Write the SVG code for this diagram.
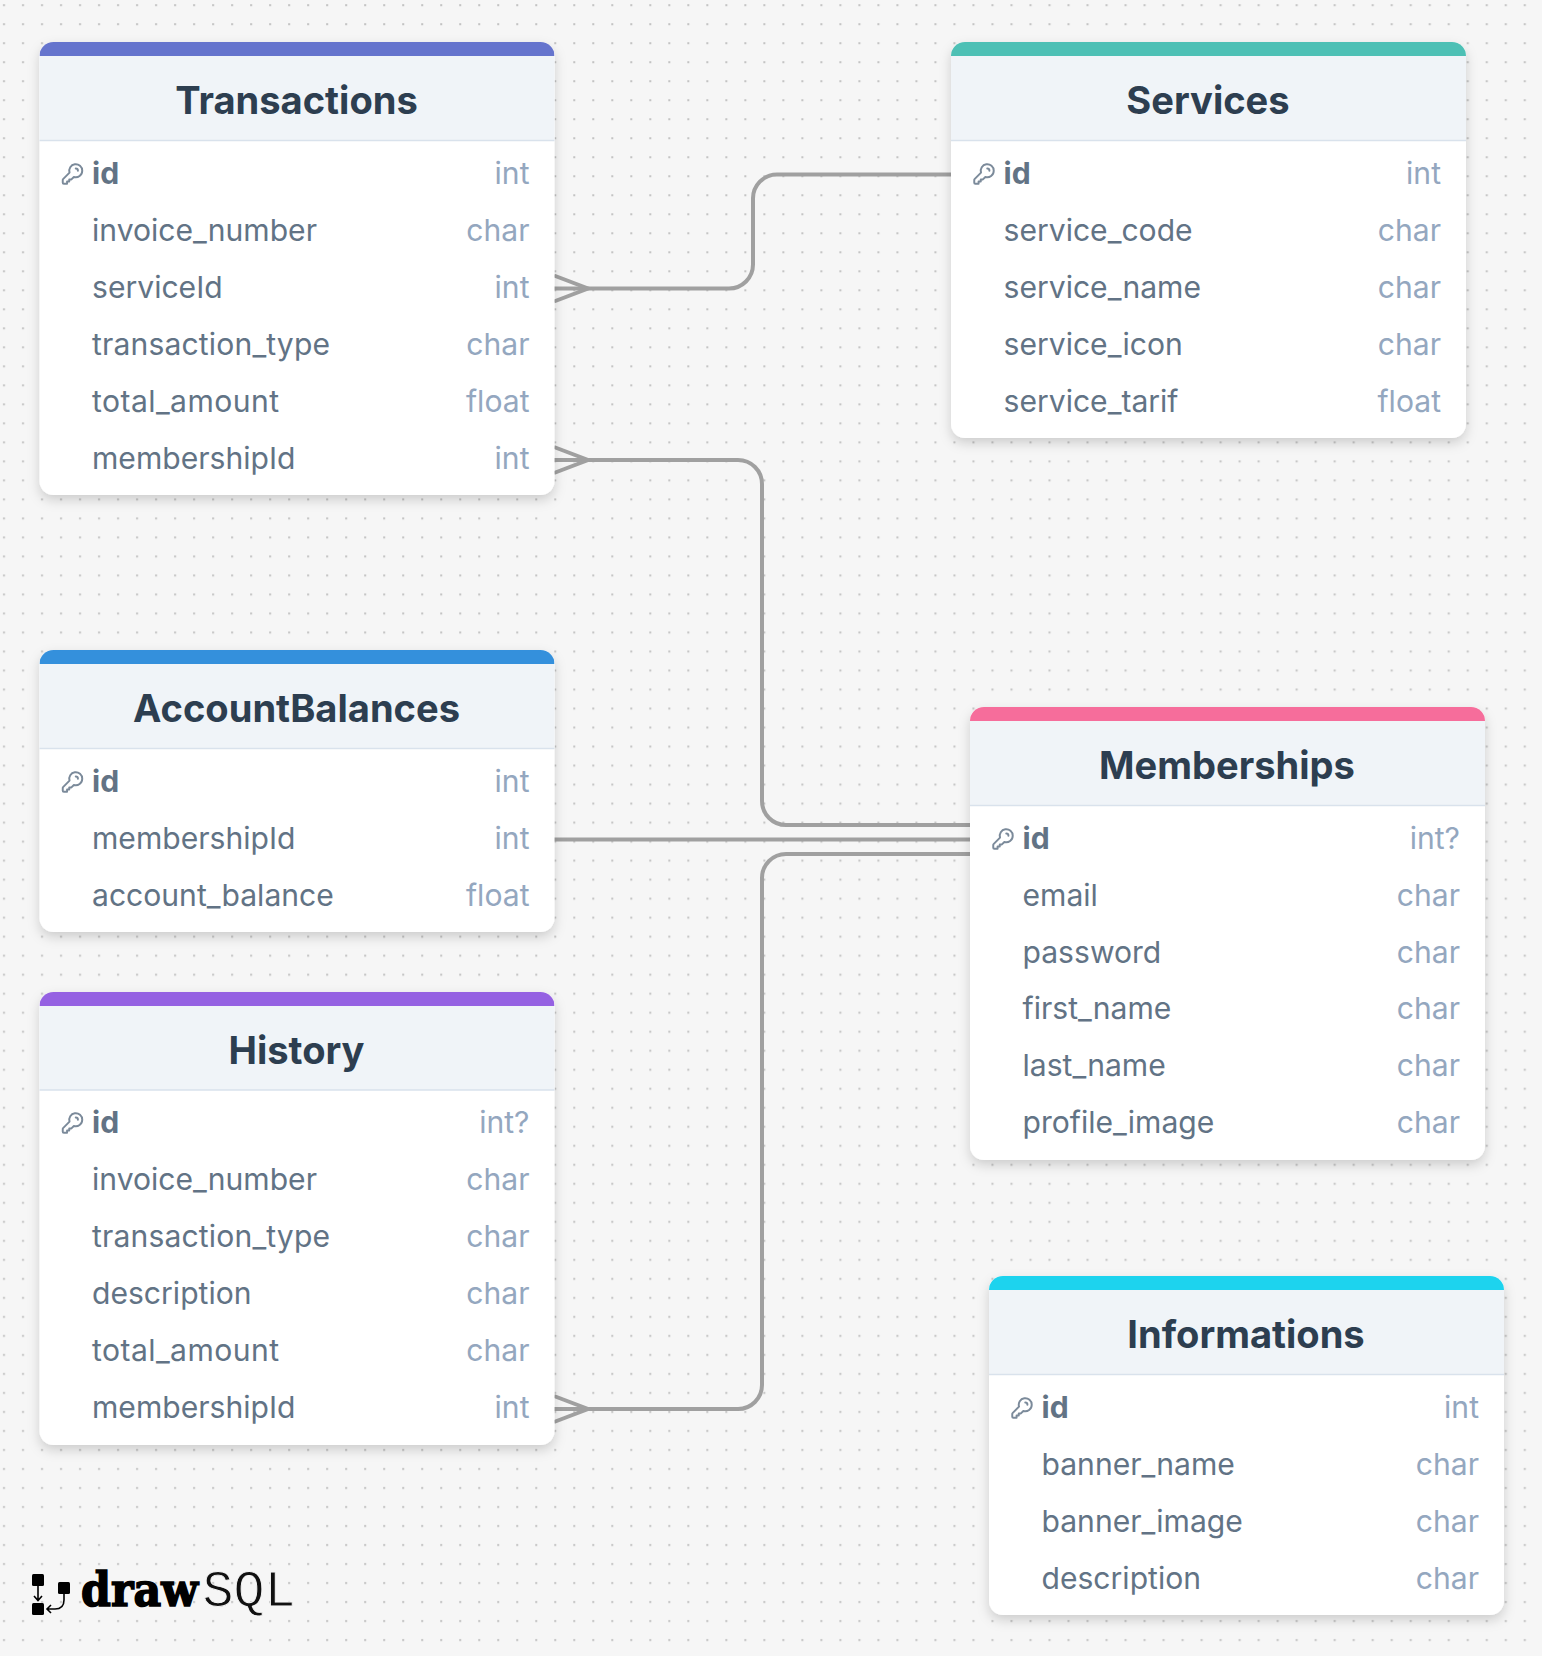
<svg xmlns="http://www.w3.org/2000/svg" width="1542" height="1656" viewBox="0 0 1542 1656">
<style>
text{font-family:Inter,"Noto Sans",sans-serif}
.t{font-size:38.1px;font-weight:700;fill:#2d3e50;text-anchor:middle}
.n{font-size:30.1px;fill:#627385}
.b{font-weight:700}
.y{font-size:30.1px;fill:#94a7bf;text-anchor:end}
.card{fill:#fff;filter:url(#sh)}
.head{fill:#f0f4f8}
.rule{stroke:#d9e2ec;stroke-width:1.5}
.c{fill:none;stroke:#a0a0a0;stroke-width:4}
.k{fill:none;stroke:#7b8a9a;stroke-width:1.8;stroke-linecap:round;stroke-linejoin:round}
</style>
<defs>
<pattern id="dots" width="19.01" height="19.01" patternUnits="userSpaceOnUse" x="-5.7" y="-4.5"><rect x="8.7" y="8.7" width="2" height="2" fill="#c2c2c2"/></pattern>
<filter id="sh" x="-10%" y="-10%" width="120%" height="120%"><feDropShadow dx="0" dy="5" stdDeviation="6" flood-color="#000" flood-opacity="0.17"/></filter>
<symbol id="key" viewBox="0 0 24 24"><path class="k" d="M21 9a6 6 0 0 1-7.743 5.743L11 17H9v2H7v2H4a1 1 0 0 1-1-1v-2.586a1 1 0 0 1 .293-.707l5.964-5.964A6 6 0 1 1 21 9zM15 7a2 2 0 0 1 2 2"/></symbol>
<clipPath id="top"><rect x="0" y="0" width="515" height="14"/></clipPath>
</defs>
<rect width="1542" height="1656" fill="#f6f6f6"/>
<rect width="1542" height="1656" fill="url(#dots)"/>

<g id="connectors">
<path class="c" d="M554 288.500H729a24 24 0 0 0 24-24V199a24 24 0 0 1 24-24.500H951"/>
<path class="c" d="M554 275.500L588 288.500L554 301.500"/>
<path class="c" d="M554 460H738a24 24 0 0 1 24 24V801a24 24 0 0 0 24 24H970"/>
<path class="c" d="M554 447L588 460L554 473"/>
<path class="c" d="M554 839.500H970"/>
<path class="c" d="M554 1409H738a24 24 0 0 0 24-24V878a24 24 0 0 1 24-24H970"/>
<path class="c" d="M554 1396L588 1409L554 1422"/>
</g>

<g id="Transactions" transform="translate(39.500 42)">
<rect class="card" width="515" height="453" rx="14"/>
<path class="head" d="M0 14H515V98H0z"/><rect width="515" height="28" rx="14" fill="#6574cd" clip-path="url(#top)"/>
<path class="rule" d="M0 98.500H515"/>
<text class="t" x="257" y="72">Transactions</text>
<use href="#key" x="20" y="119" width="26" height="26"/>
<text class="n b" x="52.500" y="142">id</text><text class="y" x="490" y="142">int</text>
<text class="n" x="52.500" y="199">invoice_number</text><text class="y" x="490" y="199">char</text>
<text class="n" x="52.500" y="256">serviceId</text><text class="y" x="490" y="256">int</text>
<text class="n" x="52.500" y="313" textLength="238">transaction_type</text><text class="y" x="490" y="313">char</text>
<text class="n" x="52.500" y="370" textLength="187">total_amount</text><text class="y" x="490" y="370">float</text>
<text class="n" x="52.500" y="427">membershipId</text><text class="y" x="490" y="427">int</text>
</g>

<g id="Services" transform="translate(951 42)">
<rect class="card" width="515" height="396" rx="14"/>
<path class="head" d="M0 14H515V98H0z"/><rect width="515" height="28" rx="14" fill="#4dc0b5" clip-path="url(#top)"/>
<path class="rule" d="M0 98.500H515"/>
<text class="t" x="257" y="72">Services</text>
<use href="#key" x="20" y="119" width="26" height="26"/>
<text class="n b" x="52.500" y="142">id</text><text class="y" x="490" y="142">int</text>
<text class="n" x="52.500" y="199">service_code</text><text class="y" x="490" y="199">char</text>
<text class="n" x="52.500" y="256">service_name</text><text class="y" x="490" y="256">char</text>
<text class="n" x="52.500" y="313">service_icon</text><text class="y" x="490" y="313">char</text>
<text class="n" x="52.500" y="370">service_tarif</text><text class="y" x="490" y="370">float</text>
</g>

<g id="AccountBalances" transform="translate(39.500 650)">
<rect class="card" width="515" height="282" rx="14"/>
<path class="head" d="M0 14H515V98H0z"/><rect width="515" height="28" rx="14" fill="#3490dc" clip-path="url(#top)"/>
<path class="rule" d="M0 98.500H515"/>
<text class="t" x="257" y="72">AccountBalances</text>
<use href="#key" x="20" y="119" width="26" height="26"/>
<text class="n b" x="52.500" y="142">id</text><text class="y" x="490" y="142">int</text>
<text class="n" x="52.500" y="199">membershipId</text><text class="y" x="490" y="199">int</text>
<text class="n" x="52.500" y="256">account_balance</text><text class="y" x="490" y="256">float</text>
</g>

<g id="History" transform="translate(39.500 992)">
<rect class="card" width="515" height="453" rx="14"/>
<path class="head" d="M0 14H515V98H0z"/><rect width="515" height="28" rx="14" fill="#9561e2" clip-path="url(#top)"/>
<path class="rule" d="M0 98H515"/>
<text class="t" x="257" y="72">History</text>
<use href="#key" x="20" y="118" width="26" height="26"/>
<text class="n b" x="52.500" y="141">id</text><text class="y" x="490" y="141">int?</text>
<text class="n" x="52.500" y="198">invoice_number</text><text class="y" x="490" y="198">char</text>
<text class="n" x="52.500" y="255" textLength="238">transaction_type</text><text class="y" x="490" y="255">char</text>
<text class="n" x="52.500" y="312">description</text><text class="y" x="490" y="312">char</text>
<text class="n" x="52.500" y="369" textLength="187">total_amount</text><text class="y" x="490" y="369">char</text>
<text class="n" x="52.500" y="426">membershipId</text><text class="y" x="490" y="426">int</text>
</g>

<g id="Memberships" transform="translate(970 707)">
<rect class="card" width="515" height="453" rx="14"/>
<path class="head" d="M0 14H515V98H0z"/><rect width="515" height="28" rx="14" fill="#f66d9b" clip-path="url(#top)"/>
<path class="rule" d="M0 98.500H515"/>
<text class="t" x="257" y="72">Memberships</text>
<use href="#key" x="20" y="119" width="26" height="26"/>
<text class="n b" x="52.500" y="142">id</text><text class="y" x="490" y="142">int?</text>
<text class="n" x="52.500" y="199">email</text><text class="y" x="490" y="199">char</text>
<text class="n" x="52.500" y="256">password</text><text class="y" x="490" y="256">char</text>
<text class="n" x="52.500" y="312">first_name</text><text class="y" x="490" y="312">char</text>
<text class="n" x="52.500" y="369">last_name</text><text class="y" x="490" y="369">char</text>
<text class="n" x="52.500" y="426">profile_image</text><text class="y" x="490" y="426">char</text>
</g>

<g id="Informations" transform="translate(989 1276)">
<rect class="card" width="515" height="339" rx="14"/>
<path class="head" d="M0 14H515V98H0z"/><rect width="515" height="28" rx="14" fill="#1dd3ee" clip-path="url(#top)"/>
<path class="rule" d="M0 98.500H515"/>
<text class="t" x="257" y="72">Informations</text>
<use href="#key" x="20" y="119" width="26" height="26"/>
<text class="n b" x="52.500" y="142">id</text><text class="y" x="490" y="142">int</text>
<text class="n" x="52.500" y="199">banner_name</text><text class="y" x="490" y="199">char</text>
<text class="n" x="52.500" y="256">banner_image</text><text class="y" x="490" y="256">char</text>
<text class="n" x="52.500" y="313">description</text><text class="y" x="490" y="313">char</text>
</g>

<g id="logo">
<rect x="32" y="1574" width="12" height="12" rx="1.5" fill="#000"/>
<rect x="58" y="1582" width="12" height="12" rx="1.5" fill="#000"/>
<rect x="32" y="1603" width="12" height="12" rx="1.5" fill="#000"/>
<path d="M38 1586V1600M34 1596L38 1600.500L42 1596M64 1594V1600Q64 1609 55 1609H47M51 1605L47 1609L51 1613" fill="none" stroke="#000" stroke-width="1.6"/>
<text x="81" y="1606" font-size="46" font-weight="700" style="font-family:'DejaVu Serif',serif" stroke="#000" stroke-width="1.600" textLength="117" lengthAdjust="spacingAndGlyphs">draw</text>
<text x="202.500" y="1606" font-size="51" style="font-family:'Liberation Mono',monospace" textLength="93" lengthAdjust="spacingAndGlyphs" fill="#111" stroke="#f6f6f6" stroke-width="0.9">SQL</text>
</g>
</svg>
